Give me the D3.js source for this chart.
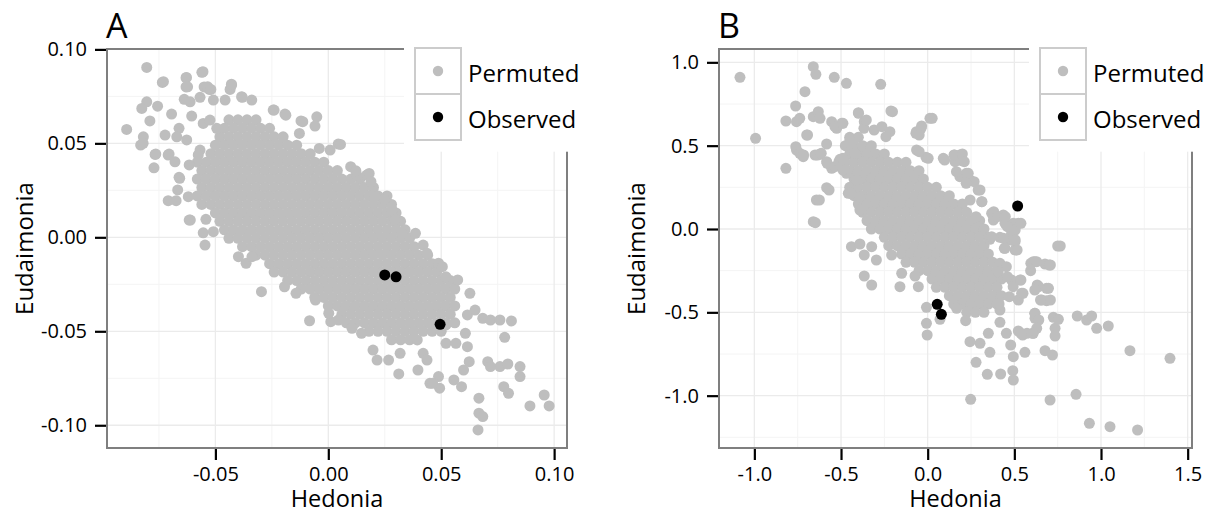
<!DOCTYPE html>
<html>
<head>
<meta charset="utf-8">
<script src="https://cdn.jsdelivr.net/npm/d3@7"></script>
<style>
  body { margin: 0; background: #fff; }
  text { font-family: "Open Sans", "DejaVu Sans", sans-serif; }
</style>
</head>
<body>
<svg id="chart" width="1211" height="513"></svg>
<script>
// ---- data ----
const seriesNames = ['Permuted', 'Observed'];

// panel A: dense permutation cloud, listed row by row as [eudaimonia, [hedonia...]]
const permutedRowsA = [
  [0.0625, [-0.044,-0.04,-0.036,-0.032]],
  [0.058, [-0.046,-0.042,-0.038,-0.034,-0.03,-0.026]],
  [0.0535, [-0.048,-0.044,-0.04,-0.036,-0.032,-0.028,-0.024,-0.02]],
  [0.049, [-0.05,-0.046,-0.042,-0.038,-0.034,-0.03,-0.026,-0.022,-0.018,-0.014]],
  [0.0445, [-0.052,-0.048,-0.044,-0.04,-0.036,-0.032,-0.028,-0.024,-0.02,-0.016,-0.012,-0.008]],
  [0.04, [-0.058,-0.054,-0.05,-0.046,-0.042,-0.038,-0.034,-0.03,-0.026,-0.022,-0.018,-0.014,-0.01,-0.006,-0.002]],
  [0.0355, [-0.056,-0.052,-0.048,-0.044,-0.04,-0.036,-0.032,-0.028,-0.024,-0.02,-0.016,-0.012,-0.008,-0.004,0,0.004]],
  [0.031, [-0.058,-0.054,-0.05,-0.046,-0.042,-0.038,-0.034,-0.03,-0.026,-0.022,-0.018,-0.014,-0.01,-0.006,-0.002,0.002,0.006,0.01,0.014]],
  [0.0265, [-0.056,-0.052,-0.048,-0.044,-0.04,-0.036,-0.032,-0.028,-0.024,-0.02,-0.016,-0.012,-0.008,-0.004,0,0.004,0.008,0.012,0.016,0.02]],
  [0.022, [-0.058,-0.054,-0.05,-0.046,-0.042,-0.038,-0.034,-0.03,-0.026,-0.022,-0.018,-0.014,-0.01,-0.006,-0.002,0.002,0.006,0.01,0.014,0.018,0.022,0.026]],
  [0.0175, [-0.056,-0.052,-0.048,-0.044,-0.04,-0.036,-0.032,-0.028,-0.024,-0.02,-0.016,-0.012,-0.008,-0.004,0,0.004,0.008,0.012,0.016,0.02,0.024,0.028]],
  [0.013, [-0.05,-0.046,-0.042,-0.038,-0.034,-0.03,-0.026,-0.022,-0.018,-0.014,-0.01,-0.006,-0.002,0.002,0.006,0.01,0.014,0.018,0.022,0.026,0.03]],
  [0.0085, [-0.048,-0.044,-0.04,-0.036,-0.032,-0.028,-0.024,-0.02,-0.016,-0.012,-0.008,-0.004,0,0.004,0.008,0.012,0.016,0.02,0.024,0.028,0.032]],
  [0.004, [-0.046,-0.042,-0.038,-0.034,-0.03,-0.026,-0.022,-0.018,-0.014,-0.01,-0.006,-0.002,0.002,0.006,0.01,0.014,0.018,0.022,0.026,0.03,0.034]],
  [-0.0005, [-0.044,-0.04,-0.036,-0.032,-0.028,-0.024,-0.02,-0.016,-0.012,-0.008,-0.004,0,0.004,0.008,0.012,0.016,0.02,0.024,0.028,0.032,0.036]],
  [-0.005, [-0.038,-0.034,-0.03,-0.026,-0.022,-0.018,-0.014,-0.01,-0.006,-0.002,0.002,0.006,0.01,0.014,0.018,0.022,0.026,0.03,0.034,0.038]],
  [-0.0095, [-0.032,-0.028,-0.024,-0.02,-0.016,-0.012,-0.008,-0.004,0,0.004,0.008,0.012,0.016,0.02,0.024,0.028,0.032,0.036,0.04,0.044]],
  [-0.014, [-0.026,-0.022,-0.018,-0.014,-0.01,-0.006,-0.002,0.002,0.006,0.01,0.014,0.018,0.022,0.026,0.03,0.034,0.038,0.042,0.046]],
  [-0.0185, [-0.024,-0.02,-0.016,-0.012,-0.008,-0.004,0,0.004,0.008,0.012,0.016,0.02,0.024,0.028,0.032,0.036,0.04,0.044,0.048]],
  [-0.023, [-0.018,-0.014,-0.01,-0.006,-0.002,0.002,0.006,0.01,0.014,0.018,0.022,0.026,0.03,0.034,0.038,0.042,0.046,0.05,0.054]],
  [-0.0275, [-0.012,-0.008,-0.004,0,0.004,0.008,0.012,0.016,0.02,0.024,0.028,0.032,0.036,0.04,0.044,0.048,0.052,0.056]],
  [-0.032, [-0.006,-0.002,0.002,0.006,0.01,0.014,0.018,0.022,0.026,0.03,0.034,0.038,0.042,0.046,0.05,0.054]],
  [-0.0365, [0,0.004,0.008,0.012,0.016,0.02,0.024,0.028,0.032,0.036,0.04,0.044,0.048,0.052,0.056]],
  [-0.041, [0.006,0.01,0.014,0.018,0.022,0.026,0.03,0.034,0.038,0.042,0.046,0.05,0.054]],
  [-0.0455, [0.008,0.012,0.016,0.02,0.024,0.028,0.032,0.036,0.04,0.044,0.048,0.052,0.056]],
  [-0.05, [0.018,0.022,0.026,0.03,0.034,0.038,0.042,0.046,0.05]],
  [-0.0545, [0.028,0.032,0.036]]
];

// panel A: scattered permutations around the cloud, [hedonia, eudaimonia]
const permutedOuterA = [
  [-0.0804,0.0904],[-0.0735,0.0824],[-0.063,0.0849],[-0.063,0.080],[-0.056,0.0878],[-0.055,0.080],[-0.0527,0.0787],
  [-0.0428,0.081],[-0.0435,0.0787],[-0.0638,0.0734],[-0.0612,0.0721],[-0.0568,0.0745],[-0.0509,0.073],[-0.0457,0.073],
  [-0.0384,0.0748],[-0.0339,0.073],[-0.0244,0.0677],[-0.0192,0.0656],[-0.0121,0.0619],[-0.0128,0.0553],[-0.0051,0.0641],
  [-0.0059,0.0592],[0.0044,0.0496],[-0.004,0.0473],[0.0008,0.0464],[0.0099,0.0376],[0.0126,0.0331],[0.017,0.0331],
  [-0.0804,0.0721],[-0.0826,0.0686],[-0.0756,0.0698],[-0.0893,0.0574],[-0.079,0.0619],[-0.0819,0.0535],[-0.0831,0.0491],
  [-0.0767,0.0441],[-0.0772,0.037],[-0.0694,0.0656],[-0.0661,0.058],[-0.0709,0.0438],[-0.0679,0.0402],[-0.0616,0.0385],
  [-0.0605,0.0645],[-0.0723,0.0544],[-0.0671,0.0535],[-0.0627,0.0518],[-0.0661,0.0319],[-0.0667,0.0252],[-0.062,0.0216],
  [-0.0709,0.0195],[-0.0674,0.0195],[-0.0616,0.0092],[-0.0542,0.0096],[-0.0554,0.0024],[-0.0509,0.003],[-0.0568,0.0464],
  [-0.0576,0.0438],[-0.0554,0.0606],[-0.0524,0.0624],[-0.0494,0.058],[-0.082,0.05],[-0.0764,0.0443],[-0.0705,0.0443],
  [-0.0658,0.0314],[-0.0611,0.0092],[-0.0546,-0.0041],[-0.0296,-0.0289],[-0.0083,-0.0444],[0.0312,-0.0727],[0.0397,-0.0706],
  [0.045,-0.0777],[0.0493,-0.0803],[0.0667,-0.0856],[0.0667,-0.0936],[0.0684,-0.0954],[0.0663,-0.1025],[0.0893,-0.0897],
  [0.0956,-0.0839],[0.0978,-0.0897],[0.0777,-0.0795],[0.0798,-0.083],[0.0849,-0.0688],[0.0849,-0.0741],[0.076,-0.0688],
  [0.0795,-0.0674],[0.0706,-0.0662],[0.0718,-0.0688],[0.0781,-0.0532],[0.0684,-0.0431],[0.0718,-0.044],[0.076,-0.044],
  [0.0811,-0.0445],[0.0627,-0.0298],[0.0573,-0.0227],[0.0616,-0.0413],[0.065,-0.0387],[0.0624,-0.0662],[0.0616,-0.0582],
  [0.0599,-0.0706],[0.0556,-0.0759],[0.059,-0.0795],[0.0488,-0.0741],[0.0462,-0.0777],[0.042,-0.0617],[0.0437,-0.0653],
  [0.0318,-0.0617],[0.0267,-0.0653],[0.0198,-0.06],[0.0216,-0.0653],[0.0147,-0.0511],[0.0394,-0.0546],[0.0521,-0.0564],
  [0.0565,-0.0564],[0.0607,-0.0511],[0.0521,-0.0466],[0.0045,-0.044],[0.0011,-0.0449],[0.0105,-0.0484],[-0.0364,-0.0138],
  [-0.0338,-0.0103],[-0.0398,-0.0103],[-0.0194,-0.0263],[-0.0143,-0.0298],[-0.0057,-0.0334],[0.0002,-0.0404],
  [0.0054,0.0494],[0.0122,0.0354],[0.0181,0.034],[0.0189,0.0296],[0.0207,0.0216],[0.0249,0.0202],[0.0283,0.0145],
  [0.0297,0.0092],[0.0326,0.0021],[0.0386,0.0021],[0.042,-0.0041],[0.0437,-0.0085],[0.0488,-0.0138],[0.0505,-0.0156],
  [0.0521,-0.021],[-0.073,0.0828],[-0.0628,0.0851],[-0.0623,0.0801],[-0.0555,0.0881],[-0.0534,0.0801],[-0.052,0.0787],
  [-0.0429,0.0815],[-0.0381,0.0745],[-0.0113,0.0615],[-0.0188,0.065],[-0.024,0.0677]
];
const observedA = [[0.025,-0.020],[0.030,-0.021],[0.0495,-0.0463]];

// panel B
const permutedRowsB = [
  [0.55, [-0.45,-0.40]],
  [0.50, [-0.475,-0.425,-0.375,-0.325]],
  [0.45, [-0.45,-0.40,-0.35,-0.30,-0.25]],
  [0.40, [-0.475,-0.425,-0.375,-0.325,-0.275,-0.225,-0.175,-0.125]],
  [0.35, [-0.45,-0.40,-0.35,-0.30,-0.25,-0.20,-0.15,-0.10,-0.05]],
  [0.30, [-0.425,-0.375,-0.325,-0.275,-0.225,-0.175,-0.125,-0.075,-0.025]],
  [0.25, [-0.45,-0.40,-0.35,-0.30,-0.25,-0.20,-0.15,-0.10,-0.05,0,0.05]],
  [0.20, [-0.425,-0.375,-0.325,-0.275,-0.225,-0.175,-0.125,-0.075,-0.025,0.025,0.075,0.125]],
  [0.15, [-0.40,-0.35,-0.30,-0.25,-0.20,-0.15,-0.10,-0.05,0,0.05,0.10,0.15,0.20]],
  [0.10, [-0.375,-0.325,-0.275,-0.225,-0.175,-0.125,-0.075,-0.025,0.025,0.075,0.125,0.175,0.225]],
  [0.05, [-0.35,-0.30,-0.25,-0.20,-0.15,-0.10,-0.05,0,0.05,0.10,0.15,0.20,0.25,0.30]],
  [0.00, [-0.325,-0.275,-0.225,-0.175,-0.125,-0.075,-0.025,0.025,0.075,0.125,0.175,0.225,0.275,0.325]],
  [-0.05, [-0.25,-0.20,-0.15,-0.10,-0.05,0,0.05,0.10,0.15,0.20,0.25,0.30,0.35]],
  [-0.10, [-0.225,-0.175,-0.125,-0.075,-0.025,0.025,0.075,0.125,0.175,0.225,0.275,0.325]],
  [-0.15, [-0.15,-0.10,-0.05,0,0.05,0.10,0.15,0.20,0.25,0.30,0.35]],
  [-0.20, [-0.125,-0.075,-0.025,0.025,0.075,0.125,0.175,0.225,0.275,0.325,0.375]],
  [-0.25, [-0.05,0,0.05,0.10,0.15,0.20,0.25,0.30,0.35,0.40]],
  [-0.30, [0.025,0.075,0.125,0.175,0.225,0.275,0.325,0.375,0.425]],
  [-0.35, [0.05,0.10,0.15,0.20,0.25,0.30,0.35,0.40]],
  [-0.40, [0.125,0.175,0.225,0.275,0.325,0.375,0.425]],
  [-0.45, [0.15,0.20,0.25,0.30,0.35,0.40]],
  [-0.50, [0.225,0.275,0.325]]
];
const permutedOuterB = [
  [-1.083,0.910],[-0.993,0.544],[-0.660,0.974],[-0.645,0.928],[-0.539,0.910],[-0.469,0.874],[-0.271,0.868],[-0.708,0.824],
  [-0.762,0.738],[-0.818,0.648],[-0.757,0.644],[-0.738,0.664],[-0.698,0.564],[-0.660,0.674],[-0.631,0.704],[-0.621,0.664],
  [-0.554,0.644],[-0.525,0.604],[-0.496,0.634],[-0.400,0.698],[-0.366,0.644],[-0.368,0.604],[-0.212,0.708],[0.013,0.664],
  [-0.035,0.618],[-0.068,0.574],[-0.064,0.474],[-0.010,0.430],[0.090,0.424],[0.152,0.444],[0.186,0.444],[0.196,0.410],
  [-0.818,0.364],[-0.757,0.474],[-0.718,0.434],[-0.583,0.510],[-0.650,0.444],[-0.621,0.448],[-0.583,0.404],[-0.554,0.364],
  [-0.583,0.248],[-0.642,0.174],[-0.660,0.044],[-0.506,0.418],[-0.440,0.494],[-0.420,0.454],[-0.449,0.534],[-0.469,0.334],
  [-0.411,0.294],[-0.458,0.214],[-0.391,0.194],[-0.391,0.114],[-0.440,-0.106],[-0.391,-0.090],[-0.323,-0.106],[-0.366,-0.156],
  [-0.296,-0.186],[-0.366,-0.282],[-0.323,-0.336],[-0.150,-0.266],[-0.160,-0.346],[-0.208,-0.156],[0.158,0.404],[0.186,0.314],
  [0.223,0.334],[0.244,0.294],[0.291,0.234],[0.312,0.164],[0.369,0.094],[0.379,0.054],[0.436,0.084],[0.446,0.034],
  [0.494,0.034],[0.523,0.034],[0.484,-0.026],[0.504,-0.076],[0.504,-0.126],[0.442,-0.116],[0.609,-0.196],[0.677,-0.210],
  [-0.073,-0.282],[-0.054,-0.346],[-0.007,-0.470],[-0.007,-0.566],[-0.003,-0.636],[0.071,-0.542],[0.167,-0.476],[0.219,-0.550],
  [0.244,-0.676],[0.302,-0.686],[0.279,-0.800],[0.350,-0.626],[0.359,-0.740],[0.344,-0.872],[0.421,-0.870],[0.248,-1.022],
  [0.417,-0.560],[0.454,-0.626],[0.479,-0.696],[0.494,-0.766],[0.491,-0.850],[0.494,-0.906],[0.523,-0.612],[0.548,-0.636],
  [0.609,-0.626],[0.561,-0.740],[0.619,-0.506],[0.619,-0.536],[0.677,-0.730],[0.720,-0.756],[0.725,-0.530],[0.754,-0.542],
  [0.735,-0.596],[0.735,-0.642],[0.863,-0.522],[0.917,-0.546],[0.946,-0.522],[0.975,-0.596],[1.042,-0.582],[1.167,-0.730],
  [1.398,-0.776],[0.706,-1.026],[0.856,-0.992],[0.933,-1.166],[1.052,-1.186],[1.211,-1.206],[0.750,-0.102],[0.619,-0.196],
  [0.594,-0.250],[0.702,-0.216],[0.632,-0.336],[0.686,-0.356],[0.658,-0.426],[0.686,-0.430],[0.533,-0.306],[0.542,-0.386],
  [0.523,-0.426],[0.359,-0.062],[0.417,-0.050],[0.475,-0.066],[0.446,-0.116],[0.417,-0.206],[0.454,-0.226],[0.407,-0.256],
  [0.484,-0.306],[0.417,-0.486],[0.412,-0.450],[-0.761,0.494],[-0.738,0.454],[-0.716,0.444],[-0.693,0.564],[-0.636,0.444],
  [-0.614,0.454],[-0.569,0.234],[-0.625,0.174],[-0.648,0.038],[-0.580,0.394],[-0.535,0.374],[-0.489,0.354],[-0.512,0.404],
  [-0.489,0.424],[-0.444,0.214],[-0.535,0.614],[-0.489,0.634],[-0.399,0.694],[-0.354,0.654],[-0.309,0.594],[-0.264,0.614],
  [-0.218,0.584],[-0.241,0.554],[-0.203,0.704],[-0.065,0.584],[-0.038,0.604],[-0.049,0.564],[0.026,0.664],[-0.049,0.464],
  [0.003,0.424],[0.098,0.414],[0.155,0.444],[0.200,0.450],[0.211,0.404],[0.166,0.344],[0.234,0.334],[0.268,0.284],
  [0.222,0.274],[0.302,0.234],[0.313,0.164],[0.245,0.174],[0.279,0.074],[0.381,0.104],[0.403,0.074],[0.448,0.074],
  [0.460,0.014],[0.505,-0.006],[0.538,0.034],[0.369,-0.046],[0.437,-0.056],[0.505,-0.066],[0.516,-0.126],[0.765,-0.102],
  [0.595,-0.206],[0.629,-0.196],[0.708,-0.216],[0.641,-0.346],[0.697,-0.356],[0.708,-0.426],[0.651,-0.426],[0.618,-0.366],
  [0.538,-0.306],[0.550,-0.386],[0.460,-0.286],[0.493,-0.346],[0.471,-0.406],[0.618,-0.506],[0.641,-0.546],[0.629,-0.596],
  [0.606,-0.626],[0.573,-0.626],[0.538,-0.626]
];
const observedB = [[0.519,0.138],[0.055,-0.452],[0.079,-0.512]];

// axis ticks
const xTicksA = [-0.05, 0, 0.05, 0.10];
const yTicksA = [-0.10, -0.05, 0, 0.05, 0.10];
const xMinorA = [-0.075, -0.025, 0.025, 0.075];
const yMinorA = [-0.075, -0.025, 0.025, 0.075];
const xTicksB = [-1.0, -0.5, 0, 0.5, 1.0, 1.5];
const yTicksB = [-1.0, -0.5, 0, 0.5, 1.0];
const xMinorB = [-0.75, -0.25, 0.25, 0.75, 1.25];
const yMinorB = [-1.25, -0.75, -0.25, 0.25, 0.75];

const flatten = rows => rows.flatMap(([e, hs]) => hs.map(h => [h, e]));

const svg = d3.select('#chart');
const grey = '#bebebe';

function drawPanel(p) {
  const x = d3.scaleLinear().domain(p.xDomain).range([p.left, p.right]);
  const y = d3.scaleLinear().domain(p.yDomain).range([p.bottom, p.top]);
  const g = svg.append('g');

  // minor then major grid
  const grid = g.append('g');
  grid.selectAll('.vmin').data(p.xMinor).enter().append('line')
    .attr('x1', d => x(d)).attr('x2', d => x(d)).attr('y1', p.top).attr('y2', p.bottom)
    .attr('stroke', '#f4f4f4').attr('stroke-width', 1);
  grid.selectAll('.hmin').data(p.yMinor).enter().append('line')
    .attr('y1', d => y(d)).attr('y2', d => y(d)).attr('x1', p.left).attr('x2', p.right)
    .attr('stroke', '#f4f4f4').attr('stroke-width', 1);
  grid.selectAll('.vmaj').data(p.xTicks).enter().append('line')
    .attr('x1', d => x(d)).attr('x2', d => x(d)).attr('y1', p.top).attr('y2', p.bottom)
    .attr('stroke', '#ebebeb').attr('stroke-width', 1.3);
  grid.selectAll('.hmaj').data(p.yTicks).enter().append('line')
    .attr('y1', d => y(d)).attr('y2', d => y(d)).attr('x1', p.left).attr('x2', p.right)
    .attr('stroke', '#ebebeb').attr('stroke-width', 1.3);

  // points
  const pts = g.append('g');
  pts.selectAll('.perm').data(p.permuted).enter().append('circle')
    .attr('cx', d => x(d[0])).attr('cy', d => y(d[1])).attr('r', 5.5).attr('fill', grey);
  pts.selectAll('.obs').data(p.observed).enter().append('circle')
    .attr('cx', d => x(d[0])).attr('cy', d => y(d[1])).attr('r', 5.5).attr('fill', '#000');

  // panel border
  g.append('rect')
    .attr('x', p.left).attr('y', p.top)
    .attr('width', p.right - p.left).attr('height', p.bottom - p.top)
    .attr('fill', 'none').attr('stroke', '#7f7f7f').attr('stroke-width', 2);

  // axes
  const ax = g.append('g').attr('transform', `translate(0,${p.bottom + 1})`)
    .call(d3.axisBottom(x).tickValues(p.xTicks).tickFormat(p.fmt).tickSize(11).tickSizeOuter(0).tickPadding(7));
  const ay = g.append('g').attr('transform', `translate(${p.left - 1},0)`)
    .call(d3.axisLeft(y).tickValues(p.yTicks).tickFormat(p.fmt).tickSize(11).tickSizeOuter(0).tickPadding(8));
  [ax, ay].forEach(a => {
    a.select('.domain').remove();
    a.selectAll('line').attr('stroke', '#000').attr('stroke-width', 2.2);
    a.selectAll('text').attr('font-size', 20).attr('fill', '#000')
      .style('font-family', '"Open Sans", "DejaVu Sans", sans-serif');
  });

  // titles
  g.append('text').attr('x', (p.left + p.right) / 2).attr('y', 507)
    .attr('text-anchor', 'middle').attr('font-size', 23.5).text('Hedonia');
  g.append('text')
    .attr('transform', `translate(${p.left - 74},${(p.top + p.bottom) / 2}) rotate(-90)`)
    .attr('text-anchor', 'middle').attr('font-size', 24).text('Eudaimonia');
  g.append('text').attr('x', p.left - 1).attr('y', 38).attr('font-size', 34).text(p.tag);

  // legend
  const lx = p.right - 152;
  const lg = g.append('g');
  lg.append('rect').attr('x', lx - 11).attr('y', 30).attr('width', 200).attr('height', 151.7 - 30).attr('fill', '#fff');
  const keys = [{ name: seriesNames[0], color: grey }, { name: seriesNames[1], color: '#000' }];
  keys.forEach((k, i) => {
    const ky = 48 + i * 46;
    lg.append('rect').attr('x', lx).attr('y', ky).attr('width', 46).attr('height', 46)
      .attr('fill', '#fff').attr('stroke', '#cccccc').attr('stroke-width', 2);
    lg.append('circle').attr('cx', lx + 23).attr('cy', ky + 23).attr('r', 5.2).attr('fill', k.color);
    lg.append('text').attr('x', lx + 53).attr('y', ky + 34).attr('font-size', 24).attr('fill', '#000').text(k.name);
  });
}

drawPanel({
  tag: 'A', left: 107, right: 567, top: 49, bottom: 448,
  xDomain: [-0.098, 0.1057], yDomain: [-0.1121, 0.1002],
  xTicks: xTicksA, yTicks: yTicksA, xMinor: xMinorA, yMinor: yMinorA,
  fmt: d => d.toFixed(2),
  permuted: flatten(permutedRowsA).concat(permutedOuterA), observed: observedA
});

drawPanel({
  tag: 'B', left: 719, right: 1192, top: 49, bottom: 448,
  xDomain: [-1.204, 1.525], yDomain: [-1.314, 1.080],
  xTicks: xTicksB, yTicks: yTicksB, xMinor: xMinorB, yMinor: yMinorB,
  fmt: d => d.toFixed(1),
  permuted: flatten(permutedRowsB).concat(permutedOuterB), observed: observedB
});
</script>
</body>
</html>
